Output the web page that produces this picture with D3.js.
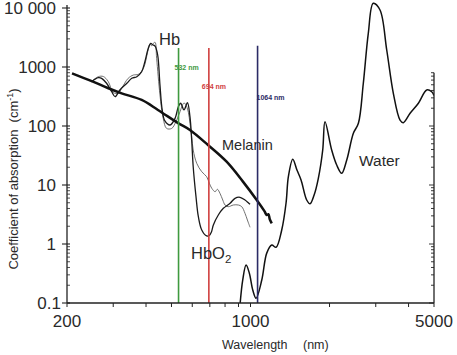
<!DOCTYPE html>
<html><head><meta charset="utf-8">
<script src="https://cdn.jsdelivr.net/npm/d3@7"></script>
<style>
body{margin:0;background:#fff}
svg{display:block}
text{font-family:"Liberation Sans",Arial,sans-serif;fill:#2a2a2a}
</style>
</head><body>
<svg id="chart" width="457" height="355"></svg>
<script>
// ---- data (wavelength nm, absorption coefficient cm^-1) ----
const melanin = [[209,782],[251,564],[286,441],[323,358],[385,276],[444,187],[530,112],[588,85.5],[689,47.6],[811,24.8],[936,11.4],[1056,5.57],[1130,3.6],[1153,3.1],[1170,3.2],[1185,2.6],[1205,2.24]];
const hbO2 = [[248,564],[263,659],[271,643],[283,530],[296,381],[305,314],[318,408],[338,530],[353,643],[369,685],[385,832],[396,1230],[408,2075],[417,2522],[424,2380],[433,2250],[443,1597],[452,496],[461,187],[472,122],[494,104],[516,135],[531,212],[542,243],[558,187],[575,248],[588,144],[597,57.9],[605,20.4],[620,6.34],[633,2.9],[652,1.73],[681,1.37],[697,1.40],[710,1.6],[722,2.10],[754,3.10],[788,4.03],[836,4.90],[873,5.95],[912,6.19],[953,5.57],[981,5.0],[996,4.7]];
const hb = [[248,564],[263,685],[275,690],[287,570],[300,370],[314,358],[323,435],[342,643],[358,731],[374,752],[391,951],[406,1817],[414,2450],[420,2300],[426,2500],[433,2621],[439,1404],[452,335],[465,135],[479,91],[501,91],[519,116],[539,175],[550,225],[558,245],[566,235],[580,170],[588,111],[597,65.9],[605,39.2],[624,23.3],[652,16.8],[681,13.8],[697,10.7],[712,8.79],[733,7.70],[748,8.45],[765,7.23],[784,5.57],[800,4.58],[823,4.29],[860,4.58],[899,4.58],[926,4.29],[953,3.31],[973,2.55],[996,1.92]];
const water = [[912,0.092],[934,0.245],[962,0.44],[990,0.32],[1020,0.166],[1050,0.12],[1104,0.245],[1153,0.70],[1205,0.96],[1251,0.88],[1315,1.73],[1366,4.95],[1394,13.8],[1449,27.3],[1503,17.9],[1558,12.2],[1637,5.57],[1686,4.8],[1746,6.7],[1813,13],[1884,39.2],[1922,118],[2038,39.2],[2130,21.8],[2225,15.8],[2326,26.5],[2465,75.2],[2576,111],[2690,530],[2810,3727],[2935,12030],[3114,9250],[3303,1941],[3500,358],[3712,126],[3822,114],[4054,164],[4360,243],[4690,408],[4900,381],[5000,330]];

const laserNm = [532, 694, 1064];
const laserLabels = ["532 nm", "694 nm", "1064 nm"];
const laserTop = [2100, 2100, 2300];

const yMajorTicks = [0.1, 1, 10, 100, 1000, 10000];
const yTickLabels = ["0.1", "1", "10", "100", "1000", "10 000"];
const xMinorTicks = [200,300,400,500,600,700,800,900,1000,2000,3000,4000,5000];
const xTickLabelValues = [200, 1000, 5000];
const xTickLabels = ["200", "1000", "5000"];
const rightAxisTop = 800;

// ---- drawing ----
const svg = d3.select("#chart");
const x = d3.scaleLog().domain([200, 5000]).range([67, 434]);
const y = d3.scaleLog().domain([0.1, 10000]).range([303, 8]);

svg.append("defs").append("clipPath").attr("id","plot")
  .append("rect").attr("x",67).attr("y",0).attr("width",367).attr("height",303);

const line = d3.line().x(d => x(d[0])).y(d => y(d[1])).curve(d3.curveCatmullRom.alpha(0.5));
const g = svg.append("g").attr("clip-path","url(#plot)");

// laser lines
const laserColors = ["#3f9a3f", "#d0403f", "#2b2b66"];
const laserLabelDx = [-4, -7, -1];
const laserLabelY = [70, 89, 100];
laserNm.forEach((nm, i) => {
  svg.append("line").attr("x1", x(nm)).attr("x2", x(nm))
    .attr("y1", y(laserTop[i])).attr("y2", y(0.1))
    .attr("stroke", laserColors[i]).attr("stroke-width", 1.6);
  svg.append("text").attr("x", x(nm) + laserLabelDx[i]).attr("y", laserLabelY[i])
    .attr("font-size", 7).attr("font-weight", "bold").style("fill", laserColors[i]).text(laserLabels[i]);
});

g.append("path").datum(hb).attr("d", line).attr("fill","none").attr("stroke","#606060").attr("stroke-width",0.9);
g.append("path").datum(hbO2).attr("d", line).attr("fill","none").attr("stroke","#1a1a1a").attr("stroke-width",1.3);
g.append("path").datum(melanin).attr("d", line).attr("fill","none").attr("stroke","#111").attr("stroke-width",2.5);
g.append("path").datum(water).attr("d", line).attr("fill","none").attr("stroke","#111").attr("stroke-width",1.5);

// axes
const axisColor = "#222";
// left axis
svg.append("line").attr("x1",67).attr("x2",67).attr("y1",5).attr("y2",303).attr("stroke",axisColor).attr("stroke-width",1.3);
yMajorTicks.forEach((v, i) => {
  svg.append("line").attr("x1",62).attr("x2",70).attr("y1",y(v)).attr("y2",y(v)).attr("stroke",axisColor).attr("stroke-width",1.1);
  svg.append("text").attr("x", i === 0 ? 61 : 56).attr("y", y(v) + 6)
    .attr("text-anchor","end").attr("font-size",17).text(yTickLabels[i]);
  if (i < yMajorTicks.length - 1) {
    for (let m = 2; m <= 9; m++) {
      const yy = y(v * m);
      svg.append("line").attr("x1",67).attr("x2",70).attr("y1",yy).attr("y2",yy).attr("stroke",axisColor).attr("stroke-width",0.8);
    }
  }
});
// bottom axis
svg.append("line").attr("x1",67).attr("x2",434).attr("y1",303).attr("y2",303).attr("stroke",axisColor).attr("stroke-width",1.3);
xMinorTicks.forEach(v => {
  svg.append("line").attr("x1",x(v)).attr("x2",x(v)).attr("y1",303).attr("y2",307).attr("stroke",axisColor).attr("stroke-width",1);
});
xTickLabelValues.forEach((v, i) => {
  svg.append("text").attr("x", x(v)).attr("y", 327).attr("text-anchor","middle").attr("font-size",17).text(xTickLabels[i]);
});
// right partial axis
svg.append("line").attr("x1",434).attr("x2",434).attr("y1",y(rightAxisTop)).attr("y2",303).attr("stroke",axisColor).attr("stroke-width",1.3);
[0.1, 1, 10, 100].forEach(v => {
  for (let m = 1; m <= 9; m++) {
    const val = v * m;
    if (val > rightAxisTop) break;
    const len = m === 1 ? 5 : 3;
    svg.append("line").attr("x1",434 - len).attr("x2",434).attr("y1",y(val)).attr("y2",y(val)).attr("stroke",axisColor).attr("stroke-width",0.9);
  }
});

// axis titles
const yt = svg.append("text").attr("transform","translate(18,179) rotate(-90)").attr("text-anchor","middle").attr("font-size",13);
yt.append("tspan").text("Coefficient of absorption\u00a0\u00a0(cm");
yt.append("tspan").attr("dy",-5).attr("font-size",9).text("-1");
yt.append("tspan").attr("dy",5).text(")");
svg.append("text").attr("x",222).attr("y",349).attr("font-size",12.5).text("Wavelength");
svg.append("text").attr("x",303).attr("y",349).attr("font-size",12.5).text("(nm)");

// series labels
svg.append("text").attr("x",159).attr("y",45).attr("font-size",16.5).text("Hb");
const ho = svg.append("text").attr("x",191).attr("y",259).attr("font-size",16.5);
ho.append("tspan").text("HbO");
ho.append("tspan").attr("dy",4).attr("font-size",11.5).text("2");
svg.append("text").attr("x",222).attr("y",150).attr("font-size",14.5).text("Melanin");
svg.append("text").attr("x",359).attr("y",166).attr("font-size",15.5).text("Water");
</script>
</body></html>
